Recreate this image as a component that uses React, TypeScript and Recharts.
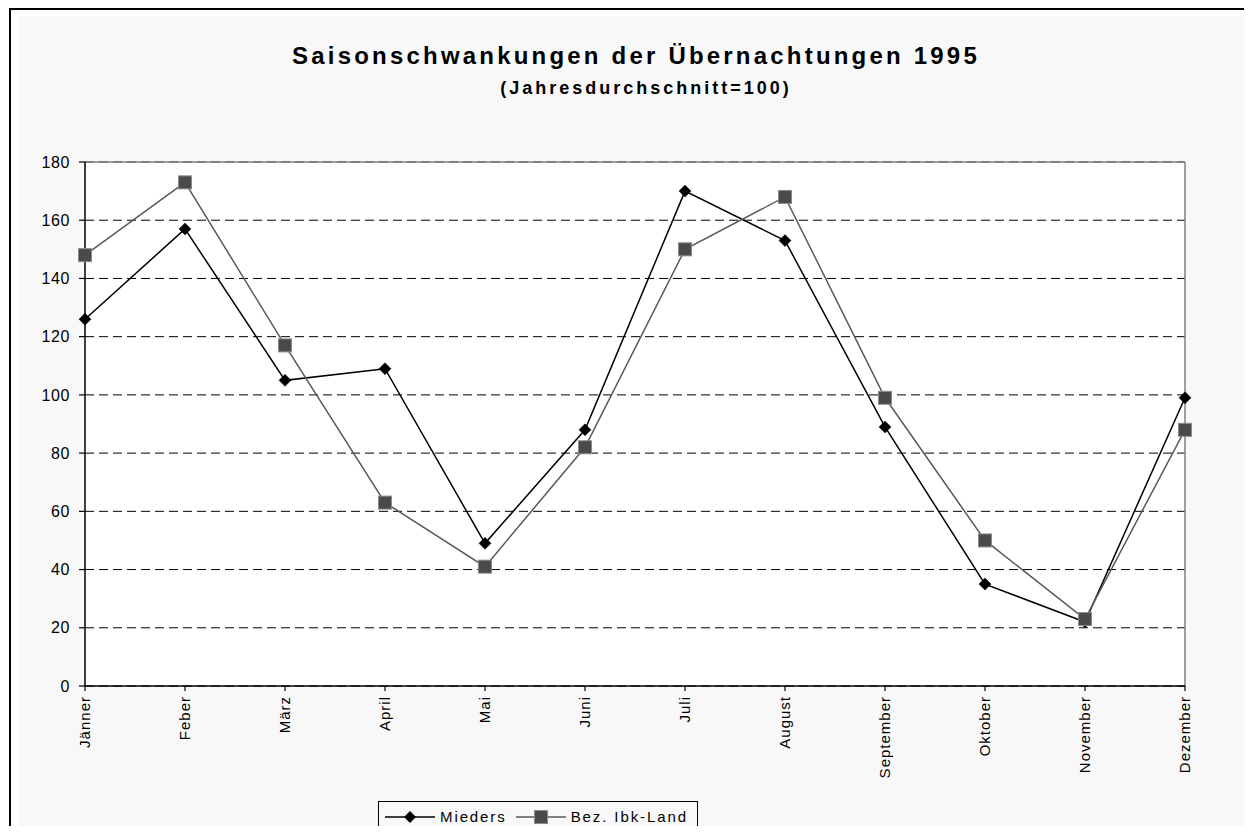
import React from 'react';
import { LineChart, Line, XAxis, YAxis, CartesianGrid, ReferenceLine, Legend } from 'recharts';

const months = ['Jänner', 'Feber', 'März', 'April', 'Mai', 'Juni', 'Juli', 'August', 'September', 'Oktober', 'November', 'Dezember'];
const mieders = [126, 157, 105, 109, 49, 88, 170, 153, 89, 35, 22, 99];
const bezIbkLand = [148, 173, 117, 63, 41, 82, 150, 168, 99, 50, 23, 88];
const yTicks = [0, 20, 40, 60, 80, 100, 120, 140, 160, 180];

const seriesNames = { mieders: 'Mieders', bez: 'Bez. Ibk-Land' };
const titleText = 'Saisonschwankungen der Übernachtungen 1995';
const subtitleText = '(Jahresdurchschnitt=100)';

const data = months.map((m, i) => ({ month: m, mieders: mieders[i], bez: bezIbkLand[i] }));

const FONT = '"Liberation Sans", Arial, sans-serif';

const DiamondDot = (props: any) => {
  const { cx, cy, index } = props;
  if (cx == null || cy == null) return null;
  const s = 6;
  return (
    <polygon
      key={'d' + index}
      points={`${cx},${cy - s} ${cx + s},${cy} ${cx},${cy + s} ${cx - s},${cy}`}
      fill="#000"
      stroke="#000"
      strokeWidth={0.5}
    />
  );
};

const SquareDot = (props: any) => {
  const { cx, cy, index } = props;
  if (cx == null || cy == null) return null;
  const s = 6.5;
  return (
    <rect key={'s' + index} x={cx - s} y={cy - s} width={2 * s} height={2 * s} fill="#4a4a4a" stroke="#8c8c8c" strokeWidth={1} />
  );
};

const XTick = (props: any) => {
  const { x, y, payload } = props;
  return (
    <g transform={`translate(${x},${y + 3}) rotate(-90)`}>
      <text x={0} y={0} dy="0.36em" textAnchor="end" fontSize={15} fill="#000" fontFamily={FONT} letterSpacing={1}>
        {payload.value}
      </text>
    </g>
  );
};

const LegendContent = () => (
  <div
    style={{
      width: 320,
      height: 31,
      boxSizing: 'border-box',
      border: '1px solid #000',
      display: 'flex',
      alignItems: 'center',
      fontSize: 15,
      letterSpacing: 1.9,
      fontFamily: FONT,
      color: '#000',
      whiteSpace: 'nowrap',
    }}
  >
    <svg width={50} height={16} style={{ marginLeft: 6 }}>
      <line x1={0} y1={8} x2={50} y2={8} stroke="#000" strokeWidth={1.5} />
      <polygon points="25,2 31,8 25,14 19,8" fill="#000" />
    </svg>
    <span style={{ marginLeft: 5 }}>{seriesNames.mieders}</span>
    <svg width={50} height={16} style={{ marginLeft: 9 }}>
      <line x1={0} y1={8} x2={50} y2={8} stroke="#595959" strokeWidth={1.5} />
      <rect x={18.5} y={1.5} width={13} height={13} fill="#4a4a4a" stroke="#8c8c8c" strokeWidth={1} />
    </svg>
    <span style={{ marginLeft: 5 }}>{seriesNames.bez}</span>
  </div>
);

export default function App() {
  return (
    <div style={{ position: 'relative', width: 1244, height: 818, fontFamily: FONT }}>
      <div
        style={{
          position: 'absolute',
          left: 1,
          top: 0,
          width: 1243,
          height: 826,
          borderTop: '2px solid #000',
          borderLeft: '2px solid #000',
          boxSizing: 'border-box',
          background: '#fff',
        }}
      />
      <div style={{ position: 'absolute', left: 11, top: 8, width: 1229, height: 818, background: '#f8f8f8' }} />
      <div style={{ position: 'absolute', left: -8, top: -8 }}>
        <LineChart width={1252} height={834} data={data} margin={{ top: 162, right: 67, bottom: 0, left: 25 }}>
          <CartesianGrid horizontal vertical={false} stroke="#000" strokeDasharray="9 5" fill="#ffffff" />
          <ReferenceLine y={180} stroke="#808080" strokeWidth={1.5} />
          <ReferenceLine x="Dezember" stroke="#808080" strokeWidth={1.5} />
          <XAxis
            dataKey="month"
            height={117}
            interval={0}
            axisLine={{ stroke: '#000', strokeWidth: 1.5 }}
            tickLine={{ stroke: '#000', strokeWidth: 1.2 }}
            tickSize={5}
            tick={<XTick />}
          />
          <YAxis
            domain={[0, 180]}
            ticks={yTicks}
            width={60}
            interval={0}
            axisLine={{ stroke: '#000', strokeWidth: 1.5 }}
            tickLine={{ stroke: '#000', strokeWidth: 1.2 }}
            tickSize={6}
            tickMargin={9}
            tick={{ fontSize: 16, fill: '#000', fontFamily: FONT, letterSpacing: 0.6 }}
          />
          <Legend
            verticalAlign="bottom"
            content={<LegendContent />}
            wrapperStyle={{ position: 'absolute', left: 378, bottom: 2, width: 320, height: 31 }}
          />
          <Line
            dataKey="mieders"
            name={seriesNames.mieders}
            stroke="#000"
            strokeWidth={1.5}
            dot={DiamondDot}
            activeDot={false}
            isAnimationActive={false}
          />
          <Line
            dataKey="bez"
            name={seriesNames.bez}
            stroke="#595959"
            strokeWidth={1.5}
            dot={SquareDot}
            activeDot={false}
            isAnimationActive={false}
          />
        </LineChart>
      </div>
      <div
        style={{
          position: 'absolute',
          left: 228,
          top: 36,
          width: 800,
          textAlign: 'center',
          fontSize: 24,
          lineHeight: '24px',
          fontWeight: 'bold',
          letterSpacing: 3.2,
          color: '#000',
          whiteSpace: 'nowrap',
        }}
      >
        {titleText}
      </div>
      <div
        style={{
          position: 'absolute',
          left: 438,
          top: 71,
          width: 400,
          textAlign: 'center',
          fontSize: 18,
          lineHeight: '18px',
          fontWeight: 'bold',
          letterSpacing: 3,
          color: '#000',
          whiteSpace: 'nowrap',
        }}
      >
        {subtitleText}
      </div>
    </div>
  );
}
